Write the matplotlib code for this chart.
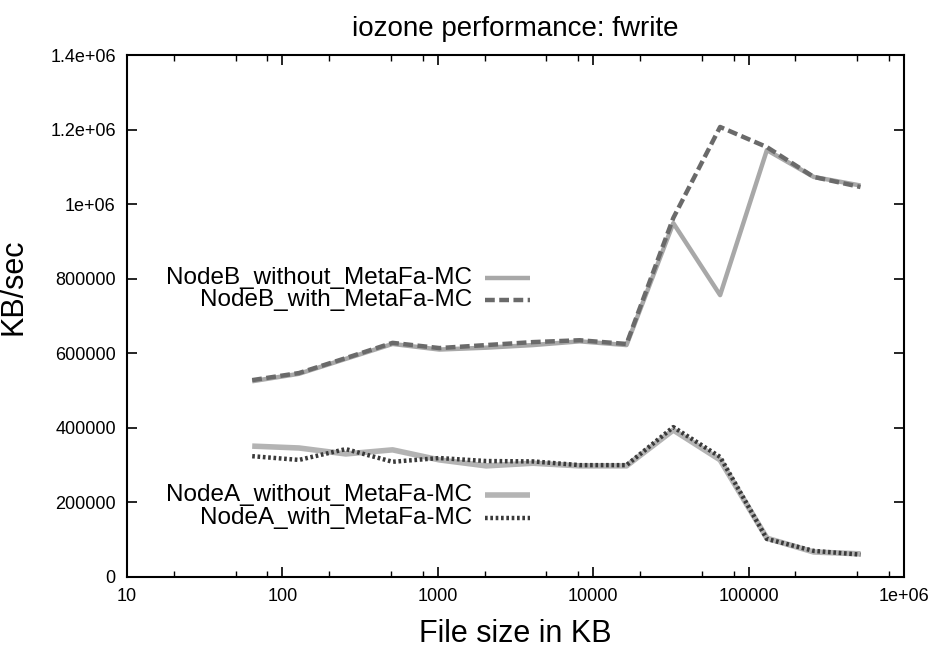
#!/usr/bin/env python
# -*- coding: utf-8 -*-
import numpy as np
import matplotlib
matplotlib.use('Agg')
import matplotlib.pyplot as plt
from matplotlib.ticker import FixedLocator, FixedFormatter, NullFormatter

plt.rcParams['font.family'] = ['Liberation Sans', 'DejaVu Sans']

# iozone file sizes (KB)
file_size = [64, 128, 256, 512, 1024, 2048, 4096, 8192, 16384,
             32768, 65536, 131072, 262144, 524288]

nodeb_without = [525000, 545000, 585000, 625000, 610000, 615000, 622000,
                 632000, 622000, 949000, 756000, 1145000, 1073000, 1050000]
nodeb_with = [528000, 547000, 587000, 628000, 614000, 622000, 630000,
              635000, 625000, 963000, 1207000, 1153000, 1073000, 1046000]
nodea_without = [351000, 346000, 330000, 341000, 314000, 298000, 305000,
                 298000, 298000, 394000, 314000, 104000, 67000, 62000]
nodea_with = [324000, 314000, 343000, 309000, 319000, 311000, 310000,
              300000, 300000, 402000, 322000, 102000, 70000, 60000]

x_ticks = [10, 100, 1000, 10000, 100000, 1000000]
x_labels = ['10', '100', '1000', '10000', '100000', '1e+06']
y_ticks = [0, 200000, 400000, 600000, 800000, 1000000, 1200000, 1400000]
y_labels = ['0', '200000', '400000', '600000', '800000', '1e+06', '1.2e+06', '1.4e+06']

series = [
    ('NodeB_without_MetaFa-MC', nodeb_without, dict(color='#a8a8a8', ls='-', lw=3.2)),
    ('NodeB_with_MetaFa-MC', nodeb_with, dict(color='#6a6a6a', ls=(0, (2.2, 1.0)), lw=3.2)),
    ('NodeA_without_MetaFa-MC', nodea_without, dict(color='#b4b4b4', ls='-', lw=4.0)),
    ('NodeA_with_MetaFa-MC', nodea_with, dict(color='#3a3a3a', ls=(0, (0.6, 0.6)), lw=3.2)),
]
# key rows (axes fraction)
key_y = [0.573, 0.531, 0.157, 0.113]

fig = plt.figure(figsize=(9.33, 6.51), dpi=100)
ax = fig.add_axes([0.136, 0.1137, 0.833, 0.8018])

for (label, vals, style), ky in zip(series, key_y):
    ax.plot(file_size, vals, solid_capstyle='butt', dash_capstyle='butt', **style)
    ax.text(0.444, ky, label, transform=ax.transAxes, ha='right', va='center',
            fontsize=17.5)
    ax.plot([0.461, 0.519], [ky, ky], transform=ax.transAxes,
            solid_capstyle='butt', dash_capstyle='butt', **style)

ax.set_xscale('log')
ax.set_xlim(10, 1e6)
ax.set_ylim(0, 1.4e6)

ax.xaxis.set_major_locator(FixedLocator(x_ticks))
ax.xaxis.set_major_formatter(FixedFormatter(x_labels))
minor = [m * d for d in [10, 100, 1000, 10000, 100000] for m in (2, 5, 8)]
ax.xaxis.set_minor_locator(FixedLocator(minor))
ax.xaxis.set_minor_formatter(NullFormatter())
ax.yaxis.set_major_locator(FixedLocator(y_ticks))
ax.yaxis.set_major_formatter(FixedFormatter(y_labels))

ax.tick_params(which='major', direction='in', length=7, width=1.2, labelsize=13,
               top=True, right=True, pad=8)
ax.tick_params(which='minor', direction='in', length=4, width=1.0, top=True)
for sp in ax.spines.values():
    sp.set_linewidth(1.5)

ax.set_title('iozone performance: fwrite', fontsize=20, pad=14)
ax.set_xlabel('File size in KB', fontsize=22, labelpad=10)
ax.set_ylabel('KB/sec', fontsize=22)
ax.yaxis.set_label_coords(-0.127, 0.556)

fig.savefig('out.png', dpi=100)
